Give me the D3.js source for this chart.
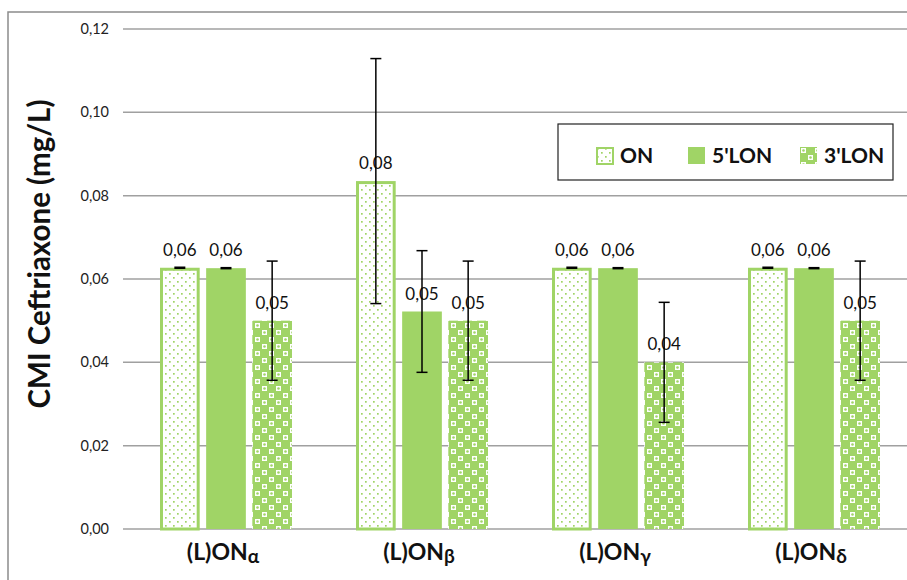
<!DOCTYPE html>
<html>
<head>
<meta charset="utf-8">
<script src="https://cdn.jsdelivr.net/npm/d3@7"></script>
<style>
  body { margin: 0; background: #fff; }
  text { font-family: Lato, "Open Sans", sans-serif; }
</style>
</head>
<body>
<script>
// groups on the x axis, greek letter goes in a subscript
const groups = ['α', 'β', 'γ', 'δ']
const series = ['ON', "5'LON", "3'LON"]

// mean values per series, same order as groups
const onVals = [0.0627, 0.0835, 0.0627, 0.0627]
const lon5Vals = [0.0626, 0.0522, 0.0626, 0.0626]
const lon3Vals = [0.050, 0.050, 0.040, 0.050]

// error (+/-)
const onErr = [0, 0.0294, 0, 0]
const lon5Err = [0, 0.0146, 0, 0]
const lon3Err = [0.0143, 0.0143, 0.0144, 0.0143]

const yTicks = [0, 0.02, 0.04, 0.06, 0.08, 0.10, 0.12]

const W = 907, H = 580
const green = '#a0d466'
const fmt = v => d3.format('.2f')(v).replace('.', ',')

const svg = d3.select('body').append('svg')
    .attr('width', W)
    .attr('height', H)

const defs = svg.append('defs')

// dotted pattern for ON
const pOn = defs.append('pattern').attr('id', 'pOn')
    .attr('patternUnits', 'userSpaceOnUse').attr('width', 8).attr('height', 8)
pOn.append('rect').attr('width', 8).attr('height', 8).attr('fill', '#fff')
pOn.append('rect').attr('x', 1).attr('y', 1).attr('width', 1.7).attr('height', 1.7).attr('fill', green)
pOn.append('rect').attr('x', 5).attr('y', 5).attr('width', 1.7).attr('height', 1.7).attr('fill', green)

// checker / confetti pattern for 3'LON
const p3 = defs.append('pattern').attr('id', 'p3')
    .attr('patternUnits', 'userSpaceOnUse').attr('width', 14).attr('height', 14)
p3.append('rect').attr('width', 14).attr('height', 14).attr('fill', green)
p3.append('rect').attr('x', 1).attr('y', 1).attr('width', 5).attr('height', 5).attr('fill', '#fff')
p3.append('rect').attr('x', 8).attr('y', 8).attr('width', 5).attr('height', 5).attr('fill', '#fff')
p3.append('circle').attr('cx', 3.5).attr('cy', 3.5).attr('r', 1.3).attr('fill', green)
p3.append('circle').attr('cx', 10.5).attr('cy', 10.5).attr('r', 1.3).attr('fill', green)

const fills = { 'ON': 'url(#pOn)', "5'LON": green, "3'LON": 'url(#p3)' }
const strokes = { 'ON': green, "5'LON": 'none', "3'LON": 'none' }

// outer chart border (cropped on right/bottom)
svg.append('rect')
    .attr('x', 8).attr('y', 12)
    .attr('width', W + 20).attr('height', H + 20)
    .attr('fill', 'none').attr('stroke', '#8c8c8c').attr('stroke-width', 1.5)

const x0 = d3.scaleBand().domain(groups).range([128, 912]).padding(0)
const x1 = d3.scaleBand().domain(series).range([x0.bandwidth() / 2 - 66, x0.bandwidth() / 2 + 66]).paddingInner(0.14)
const y = d3.scaleLinear().domain([0, 0.12]).range([529, 29])

// gridlines
svg.append('g').selectAll('line')
    .data(yTicks)
    .join('line')
    .attr('x1', 123).attr('x2', W)
    .attr('y1', d => y(d)).attr('y2', d => y(d))
    .attr('stroke', '#a0a0a0').attr('stroke-width', 1.5)

svg.append('g').selectAll('text')
    .data(yTicks)
    .join('text')
    .attr('x', 109).attr('y', d => y(d) + 5)
    .attr('text-anchor', 'end')
    .attr('font-size', 14.5).attr('fill', '#222')
    .text(d => fmt(d))

const rows = groups.map((g, i) => ({
    g,
    bars: [
        { s: 'ON', v: onVals[i], e: onErr[i] },
        { s: "5'LON", v: lon5Vals[i], e: lon5Err[i] },
        { s: "3'LON", v: lon3Vals[i], e: lon3Err[i] }
    ]
}))

const grp = svg.append('g').selectAll('g')
    .data(rows)
    .join('g')
    .attr('transform', d => `translate(${x0(d.g)},0)`)

grp.selectAll('rect')
    .data(d => d.bars)
    .join('rect')
    .attr('x', d => x1(d.s) + (d.s === 'ON' ? 1.5 : 0))
    .attr('width', d => x1.bandwidth() - (d.s === 'ON' ? 3 : 0))
    .attr('y', d => y(d.v) + (d.s === 'ON' ? 1.5 : 0))
    .attr('height', d => y(0) - y(d.v) - (d.s === 'ON' ? 1.5 : 0))
    .attr('fill', d => fills[d.s])
    .attr('stroke', d => strokes[d.s])
    .attr('stroke-width', 3)

// data labels
grp.selectAll('text.lbl')
    .data(d => d.bars)
    .join('text')
    .attr('class', 'lbl')
    .attr('x', d => x1(d.s) + x1.bandwidth() / 2)
    .attr('y', d => y(d.v) - 12)
    .attr('text-anchor', 'middle')
    .attr('font-size', 17).attr('fill', '#111')
    .text(d => fmt(d.v))

// error bars
const eb = grp.selectAll('g.err')
    .data(d => d.bars)
    .join('g')
    .attr('class', 'err')
    .attr('transform', d => `translate(${x1(d.s) + x1.bandwidth() / 2},0)`)
eb.append('line')
    .attr('y1', d => y(d.v + d.e)).attr('y2', d => y(d.v - d.e))
    .attr('stroke', '#000').attr('stroke-width', 1.5)
eb.append('line')
    .attr('x1', -5.5).attr('x2', 5.5)
    .attr('y1', d => y(d.v + d.e)).attr('y2', d => y(d.v + d.e))
    .attr('stroke', '#000').attr('stroke-width', d => d.e ? 1.5 : 2.5)
eb.filter(d => d.e).append('line')
    .attr('x1', -5.5).attr('x2', 5.5)
    .attr('y1', d => y(d.v - d.e)).attr('y2', d => y(d.v - d.e))
    .attr('stroke', '#000').attr('stroke-width', 1.5)

// category labels
const cl = svg.append('g').selectAll('text')
    .data(groups)
    .join('text')
    .attr('x', d => x0(d) + x0.bandwidth() / 2 - 3)
    .attr('y', 560)
    .attr('text-anchor', 'middle')
    .attr('font-size', 23).attr('font-weight', 'bold').attr('fill', '#111')
cl.append('tspan').text('(L)ON')
cl.append('tspan').attr('font-size', 19).attr('dy', 3).text(d => d)

// y axis title
svg.append('text')
    .attr('transform', 'translate(50,254) rotate(-90)')
    .attr('text-anchor', 'middle')
    .attr('font-size', 29.5).attr('font-weight', 'bold').attr('fill', '#111')
    .text('CMI Ceftriaxone (mg/L)')

// legend
const lg = svg.append('g')
lg.append('rect')
    .attr('x', 558).attr('y', 124).attr('width', 335).attr('height', 56)
    .attr('fill', '#fff').attr('stroke', '#222').attr('stroke-width', 1.2)
const lx = d3.scaleOrdinal().domain(series).range([596, 688, 800])
const li = lg.selectAll('g').data(series).join('g')
    .attr('transform', d => `translate(${lx(d)},147)`)
li.append('rect')
    .attr('x', d => d === 'ON' ? 1 : 0).attr('y', d => d === 'ON' ? 1 : 0)
    .attr('width', d => d === 'ON' ? 16 : 17).attr('height', d => d === 'ON' ? 16 : 17)
    .attr('fill', d => fills[d]).attr('stroke', d => strokes[d]).attr('stroke-width', 2)
li.append('text')
    .attr('x', 24).attr('y', 16)
    .attr('font-size', 21).attr('font-weight', 'bold').attr('fill', '#111')
    .text(d => d)
</script>
</body>
</html>
